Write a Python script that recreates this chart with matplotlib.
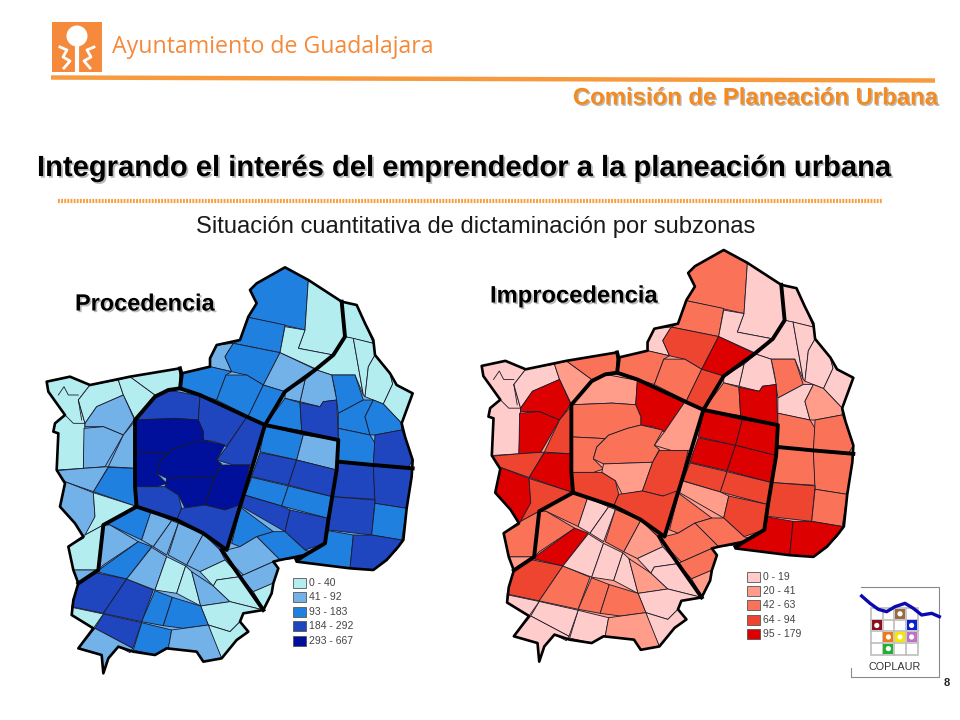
import matplotlib
matplotlib.use('Agg')
import matplotlib.pyplot as plt
import matplotlib.patheffects as pe
from matplotlib.patches import Polygon, Rectangle, Circle

plt.rcParams['font.family'] = ['Liberation Sans', 'DejaVu Sans']

# subzones, same order as the two class lists
zones = [
    [(650,70),(735,22),(805,60),(795,210),(730,195),(625,172),(650,130),(630,90)],
    [(805,60),(905,125),(915,230),(880,285),(775,265),(795,210)],
    [(625,172),(735,195),(720,278),(580,250),(600,240)],
    [(735,200),(795,210),(775,265),(880,285),(835,330),(720,278)],
    [(510,320),(510,295),(530,255),(580,250),(555,290),(575,335)],
    [(580,250),(720,278),(670,375),(620,345),(575,335),(555,290)],
    [(720,278),(830,330),(735,395),(670,375)],
    [(425,340),(510,320),(575,335),(558,345),(530,420),(420,385)],
    [(558,345),(620,345),(670,375),(625,468),(530,420)],
    [(670,375),(735,395),(675,495),(625,468)],
    [(905,125),(950,135),(975,190),(1000,250),(915,230)],
    [(830,330),(880,285),(915,230),(940,235),(970,405),(945,345),(875,345)],
    [(940,235),(1000,250),(1005,285),(985,320),(975,410),(970,405)],
    [(1005,285),(1050,340),(1058,372),(1030,432),(975,410),(985,320)],
    [(1050,340),(1070,375),(1118,400),(1085,490),(1030,432),(1058,372)],
    [(875,345),(945,345),(970,420),(895,460),(885,390)],
    [(795,360),(830,330),(875,345),(890,420),(850,425),(840,440),(780,425)],
    [(735,395),(795,360),(780,425),(735,415)],
    [(735,415),(780,428),(785,512),(675,495)],
    [(780,428),(840,440),(850,425),(890,420),(895,540),(785,512)],
    [(895,460),(970,420),(1000,420),(975,470),(990,525),(895,505)],
    [(1000,420),(1030,432),(1085,490),(1085,510),(1005,525),(990,525),(975,470)],
    [(895,505),(990,525),(1005,550),(1000,615),(895,605)],
    [(1005,525),(1085,510),(1095,530),(1118,600),(1105,622),(1000,615)],
    [(385,390),(480,408),(475,480),(405,475),(285,480),(345,410)],
    [(480,408),(620,472),(560,560),(525,545),(490,540),(490,515),(475,480)],
    [(620,472),(675,495),(640,615),(580,615),(530,600),(560,560)],
    [(285,480),(405,475),(475,480),(490,515),(490,540),(450,550),(395,570),(385,580),(285,575)],
    [(285,575),(385,580),(360,605),(350,640),(380,670),(350,680),(287,680)],
    [(395,570),(450,550),(490,540),(555,555),(530,600),(545,612),(525,650),(380,655),(350,640),(360,605)],
    [(380,655),(525,650),(495,735),(435,745),(415,705),(375,680)],
    [(525,650),(545,615),(630,615),(600,740),(555,750),(495,735)],
    [(287,680),(350,680),(375,680),(415,705),(425,745),(410,780),(288,738)],
    [(425,745),(495,735),(555,750),(597,735),(560,870),(540,870),(490,820),(410,780)],
    [(675,497),(790,525),(770,600),(660,575)],
    [(790,525),(895,540),(890,630),(770,600)],
    [(660,578),(770,600),(745,675),(635,650)],
    [(770,600),(890,630),(875,710),(745,675)],
    [(635,652),(745,678),(725,738),(615,705)],
    [(745,678),(875,710),(865,775),(725,738)],
    [(612,705),(725,738),(750,750),(735,815),(605,740)],
    [(750,750),(865,775),(855,850),(795,870),(735,815)],
    [(602,742),(700,815),(650,830),(600,860),(575,850)],
    [(700,815),(735,815),(795,870),(810,875),(770,895),(720,900),(650,830)],
    [(560,870),(600,860),(650,830),(720,900),(700,905),(610,945),(560,895),(545,870)],
    [(610,945),(700,905),(715,925),(700,970),(640,995),(600,950)],
    [(640,995),(698,970),(695,1000),(670,1045)],
    [(895,608),(1000,615),(1005,718),(877,710)],
    [(1000,618),(1118,628),(1100,745),(1005,730)],
    [(877,710),(1005,720),(995,825),(865,810)],
    [(1005,730),(1100,745),(1085,840),(995,825)],
    [(865,812),(940,825),(930,925),(770,905),(855,850)],
    [(940,825),(995,825),(1085,840),(1070,870),(1000,930),(930,925)],
    [(20,365),(90,350),(150,375),(115,420),(135,490),(130,625),(50,630),(55,520),(40,515),(45,490),(75,465),(50,430),(25,395)],
    [(150,375),(235,360),(250,405),(170,440),(135,490),(115,420)],
    [(235,360),(270,350),(345,405),(285,478),(250,405)],
    [(270,350),(420,325),(418,385),(385,390),(345,405)],
    [(170,440),(250,405),(283,478),(250,525),(190,500),(135,500),(135,490)],
    [(132,505),(190,500),(250,525),(195,620),(130,625)],
    [(250,525),(283,485),(285,625),(205,620)],
    [(205,622),(285,625),(285,738),(160,695)],
    [(50,632),(130,625),(205,620),(160,695),(75,665)],
    [(75,665),(160,698),(165,770),(135,835),(105,790),(60,740)],
    [(160,698),(285,738),(190,795),(135,825),(165,770)],
    [(288,740),(333,755),(305,840),(210,795),(190,795)],
    [(190,795),(210,795),(295,845),(190,915),(175,930)],
    [(135,825),(190,795),(175,930),(100,930),(85,860),(130,835)],
    [(100,930),(175,930),(115,970)],
    [(295,845),(335,860),(260,957),(170,935)],
    [(165,938),(260,957),(190,1060),(95,1040),(115,970)],
    [(260,957),(340,990),(305,1085),(190,1060)],
    [(335,862),(380,890),(345,990),(260,957)],
    [(333,755),(395,782),(340,860),(305,840)],
    [(395,782),(415,790),(380,885),(340,860)],
    [(415,790),(490,822),(440,915),(385,885)],
    [(490,822),(540,870),(555,900),(480,935),(440,915)],
    [(380,890),(437,918),(410,1000),(345,990)],
    [(437,918),(455,935),(482,1038),(410,1000)],
    [(455,935),(520,978),(570,1025),(482,1038)],
    [(480,935),(555,900),(600,950),(530,960),(520,978)],
    [(530,960),(600,950),(670,1050),(570,1025),(520,978)],
    [(482,1038),(570,1025),(670,1050),(610,1060),(600,1085),(570,1115),(505,1095)],
    [(505,1095),(570,1115),(600,1085),(625,1115),(590,1140),(545,1195),(520,1140)],
    [(345,992),(397,1012),(370,1097),(305,1085)],
    [(397,1012),(482,1038),(505,1095),(430,1105),(370,1097)],
    [(305,1088),(395,1110),(385,1165),(345,1185),(280,1170)],
    [(395,1110),(505,1095),(545,1195),(490,1205),(470,1175),(385,1165)],
    [(190,1062),(305,1088),(278,1165),(165,1105)],
    [(165,1105),(278,1165),(270,1178),(235,1160),(205,1195),(190,1240),(185,1185),(115,1165)],
    [(95,1042),(190,1062),(160,1105),(95,1065)],
]

procedencia_class = [
    2,0,2,0,1,2,1,2,2,2,
    0,0,0,0,0,2,1,1,2,3,2,2,2,3,
    3,3,3,4,4,4,4,4,3,3,
    2,1,3,3,2,2,3,3,2,2,1,1,0,
    3,3,3,2,2,3,
    0,0,0,0,1,1,1,2,1,1,0,
    2,1,0,1,2,3,3,1,1,1,1,1,0,0,1,0,0,0,0,2,2,2,1,3,1,0,
]
improcedencia_class = [
    2,0,2,0,0,3,4,2,2,3,
    0,0,0,0,0,2,0,0,2,4,0,1,2,2,
    1,4,1,2,2,2,1,3,3,3,
    4,4,4,4,3,3,1,3,2,2,2,2,1,
    2,2,3,2,4,4,
    0,0,1,2,4,4,3,4,3,4,3,
    2,2,2,1,4,3,2,0,0,0,2,1,0,0,1,0,0,0,0,2,2,0,1,0,0,0,
]

outline = [(735,22),(805,60),(905,125),(950,135),(975,190),(1000,240),(1005,285),(1050,340),(1070,375),
           (1118,400),(1085,490),(1095,530),(1118,600),(1115,650),(1100,745),(1090,840),(1075,860),(1040,900),
           (1000,930),(930,925),(770,905),(795,885),(720,900),(700,905),(715,925),(700,970),(695,1000),(670,1050),
           (610,1060),(600,1085),(625,1115),(590,1140),(545,1195),(490,1205),(470,1175),(380,1165),(345,1185),
           (280,1175),(235,1160),(205,1195),(190,1240),(185,1185),(115,1165),(160,1105),(95,1065),(100,1020),
           (115,970),(100,930),(85,860),(130,830),(105,790),(60,740),(75,670),(50,630),(55,520),(40,515),(45,490),
           (75,465),(50,430),(25,395),(20,365),(90,350),(150,375),(270,350),(420,325),(425,340),(510,320),(510,295),
           (530,255),(600,240),(625,170),(650,130),(630,90),(650,70)]

thick_lines = [
    [(420,325),(425,345),(420,385),(480,405),(620,470),(675,495),(895,540),(890,630),(865,780),(855,850),(770,900)],
    [(420,385),(385,390),(345,410),(285,480),(285,680),(290,740),(410,780),(490,820),(560,870),(600,740),(640,610),(675,495)],
    [(675,495),(735,395),(825,330),(880,285),(915,230),(905,125)],
    [(290,740),(190,795),(175,930),(115,970)],
    [(545,870),(600,950),(670,1050)],
    [(895,605),(1000,615),(1118,625)],
]

coast_lines = [
    [(55,405),(72,380),(85,405),(115,405)],
    [(115,420),(125,480)],
    [(75,465),(100,490),(135,490)],
]

blue_colors = ['#B4EDF0', '#73B2E8', '#1F80E0', '#1F45BF', '#00109A']
red_colors = ['#FFCCCC', '#FF9C8A', '#FA7358', '#EE4530', '#DD0000']
blue_labels = ['0 - 40', '41 - 92', '93 - 183', '184 - 292', '293 - 667']
red_labels = ['0 - 19', '20 - 41', '42 - 63', '64 - 94', '95 - 179']

grid_cells = [(2,0,'#9A6B3F'), (0,1,'#8E1020'), (3,1,'#0A1FD0'), (1,2,'#F07818'),
              (2,2,'#F4E800'), (3,2,'#C070C8'), (1,3,'#22B030')]
wave = [(50,48),(75,70),(100,88),(125,95),(150,80),(180,70),(205,85),(230,105),(260,100),(283,110)]


def blue_xy(p):
    return 40 + p[0] / 3, 260 + p[1] / 3

def red_xy(p):
    return 475 + (20 + (p[0] - 20) * 1.0155) / 3, 245 + (15 + (p[1] - 22) * 1.0139) / 3

def draw_map(ax, classes, colors, to_px):
    pts = [to_px(p) for p in outline]
    ax.add_patch(Polygon(pts, closed=True, fc=colors[1], ec='none', zorder=1))
    for zone, c in zip(zones, classes):
        ax.add_patch(Polygon([to_px(p) for p in zone], closed=True, fc=colors[c], ec='#1a1a2a', lw=0.6, zorder=2))
    for line in coast_lines:
        ax.plot(*zip(*[to_px(p) for p in line]), color='#1a1a2a', lw=0.6, zorder=2)
    for line in thick_lines:
        ax.plot(*zip(*[to_px(p) for p in line]), color='black', lw=2.8, zorder=3, solid_joinstyle='round')
    ax.add_patch(Polygon(pts, closed=True, fc='none', ec='black', lw=1.9, zorder=3, joinstyle='round'))

def draw_legend(ax, x, y0, labels, colors):
    for i, (lab, col) in enumerate(zip(labels, colors)):
        y = y0 + i * 14.4
        ax.add_patch(Rectangle((x, y - 5), 13, 10, fc=col, ec='#555555', lw=0.6, zorder=4))
        ax.text(x + 16, y, lab, fontsize=7.5, color='#444444', va='center', ha='left',
                family=['Liberation Sans'], zorder=4)

def shadow_text(ax, x, y, s, size, color, ha='left', off=1.3):
    effect = [pe.withSimplePatchShadow(offset=(off, -off), shadow_rgbFace='#808080', alpha=0.55)]
    ax.text(x, y, s, fontsize=size, color=color, weight='bold', ha=ha, va='center', path_effects=effect, zorder=6)


fig = plt.figure(figsize=(9.6, 7.2), dpi=100)
ax = fig.add_axes([0, 0, 1, 1])
ax.set_xlim(0, 960)
ax.set_ylim(720, 0)
ax.axis('off')

# header
orange = '#F58A3C'
ax.add_patch(Rectangle((52, 22), 50, 50, fc=orange, ec='none'))
ax.add_patch(Circle((77, 36), 10.5, fc='white', ec='none'))
ax.plot([77, 77], [44, 71], color='white', lw=3)
ax.plot([60, 67, 63, 70, 64], [47, 50, 57, 61, 68], color='white', lw=2)
ax.plot([94, 87, 91, 84, 90], [47, 50, 57, 61, 68], color='white', lw=2)
ax.text(112, 47, 'Ayuntamiento de Guadalajara', fontsize=16.7, color=orange, va='center', family=['Open Sans'])
ax.plot([51, 935], [77.5, 80.5], color='#F79A3E', lw=3.2, solid_capstyle='butt')
shadow_text(ax, 938, 98, 'Comisión de Planeación Urbana', 17.2, '#F58A1F', ha='right', off=1)

shadow_text(ax, 37, 168, 'Integrando el interés del emprendedor a la planeación urbana', 21, 'black')
ax.plot([58, 882], [201, 201], color='#F5A040', lw=3, ls=(0, (0.45, 0.3)))
ax.text(475.5, 227, 'Situación cuantitativa de dictaminación por subzonas', fontsize=17.1,
        color='#1a1a1a', ha='center', va='center')

# maps
draw_map(ax, procedencia_class, blue_colors, blue_xy)
draw_map(ax, improcedencia_class, red_colors, red_xy)
draw_legend(ax, 293, 583, blue_labels, blue_colors)
draw_legend(ax, 747, 576.5, red_labels, red_colors)
shadow_text(ax, 75, 304, 'Procedencia', 16.9, 'black', off=1.2)
shadow_text(ax, 490, 296, 'Improcedencia', 17.1, 'black', off=1.2)

# coplaur logo
ax.plot([861, 939, 939, 851, 851], [587, 587, 677, 677, 668], color='#8a8a8a', lw=0.8)
ax.add_patch(Rectangle((871, 608), 46.5, 46.5, fc='white', ec='#bdbdbd', lw=1.2))
for i in range(1, 4):
    ax.plot([871 + i * 11.6] * 2, [608, 654.5], color='#bdbdbd', lw=1.2)
    ax.plot([871, 917.5], [608 + i * 11.6] * 2, color='#bdbdbd', lw=1.2)
for col, row, c in grid_cells:
    ax.add_patch(Rectangle((871.8 + col * 11.6, 608.8 + row * 11.6), 10, 10, fc=c, ec='none', zorder=4))
    ax.add_patch(Circle((876.8 + col * 11.6, 613.8 + row * 11.6), 2.6, fc='white', ec='none', zorder=5))
ax.plot([845 + p[0] / 3 for p in wave], [580 + p[1] / 3 for p in wave], color='#0A0AB0', lw=2.4, zorder=5)
ax.text(895, 667, 'COPLAUR', fontsize=7.8, color='#333333', ha='center', va='center')
ax.text(947, 683, '8', fontsize=8, weight='bold', color='#222222', ha='center', va='center')

fig.savefig('out.png', dpi=100)
